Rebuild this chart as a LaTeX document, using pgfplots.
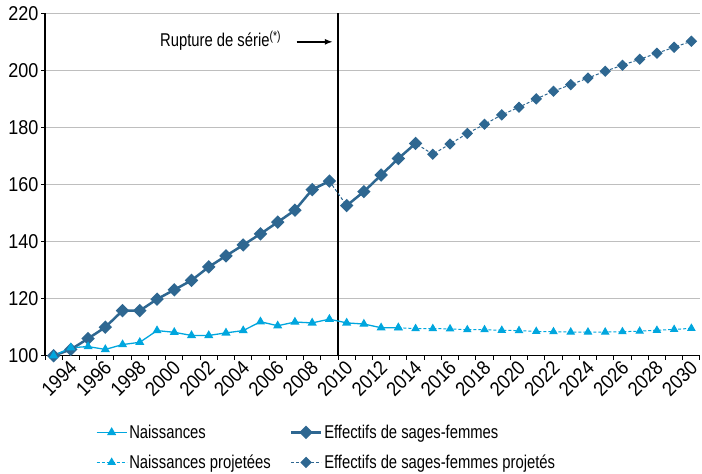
\documentclass[border=0pt]{standalone}
\usepackage{pgfplots}
\pgfplotsset{compat=1.18}
\usepackage{fontspec}
\setmainfont[FakeStretch=0.8]{Liberation Sans}
\newfontfamily\tickfont[FakeStretch=0.9]{Liberation Sans}
\usetikzlibrary{arrows.meta}
\definecolor{dark}{RGB}{46,103,145}
\definecolor{light}{RGB}{0,166,222}
\definecolor{gridc}{RGB}{190,190,190}
\begin{document}
\begin{tikzpicture}[font=\fontsize{18.5bp}{21bp}\selectfont]
\useasboundingbox (0,0) rectangle (702bp,474bp);
\begin{axis}[
  at={(45bp,118.3bp)}, anchor=south west,
  scale only axis, width=655bp, height=342.4bp,
  xmin=1992.5, xmax=2030.5, ymin=100, ymax=220,
  axis x line*=bottom, axis y line*=left,
  axis line style={line width=1.2bp, -},
  ytick={100,120,...,220},
  ymajorgrids, grid style={gridc, line width=1.2bp},
  xtick={1994,1996,...,2030},
  minor xtick={1992.5,1993.5,...,2030.5},
  major x tick style={draw=none},
  minor x tick style={black, line width=1bp},
  tick align=outside,
  major tick length=4bp, minor tick length=4bp,
  y tick style={black, line width=1bp},
  tick label style={font=\tickfont\fontsize{20bp}{22bp}\selectfont},
  /pgf/number format/.cd, 1000 sep={}, assume math mode=true,
  /pgfplots/.cd,
  xticklabel style={xshift=5bp, yshift=-2bp, rotate=45, anchor=east},
  yticklabel style={xshift=1bp},
  legend columns=2,
  legend cell align=left,
  legend style={at={(0.073,-0.19)}, anchor=north west, draw=none, fill=none,
    /tikz/every even column/.append style={column sep=17bp},
    row sep=11bp},
  legend image code/.code={\draw[mark repeat=2,mark phase=2,#1] plot coordinates {(0bp,0bp) (15bp,0bp) (30bp,0bp)};},
]
% vertical break line
\addplot[black, line width=1.2bp, forget plot] coordinates {(2009.5,100) (2009.5,220)};

% Effectifs projetes (dashed)
\addplot[dark, line width=1bp, dash pattern=on 3bp off 2bp, mark=square*, mark size=3.5bp,
  mark options={solid, rotate=45, fill=dark}, forget plot] coordinates {
(2009,161.2) (2010,152.6) (2011,157.5) (2012,163.3) (2013,169.1) (2014,174.4)
(2015,170.6) (2016,174.2) (2017,177.9) (2018,181.1) (2019,184.4) (2020,187.1)
(2021,190.0) (2022,192.7) (2023,195.0) (2024,197.3) (2025,199.7) (2026,201.8)
(2027,203.9) (2028,206.0) (2029,208.1) (2030,210.2)};

% Effectifs (solid)
\addplot[dark, line width=2.5bp, mark=square*, mark size=3.5bp,
  mark options={solid, rotate=45, fill=dark}, forget plot] coordinates {
(1993,100.0) (1994,102.2) (1995,106.0) (1996,110.0) (1997,115.8) (1998,115.8)
(1999,119.8) (2000,123.1) (2001,126.4) (2002,131.1) (2003,135.0) (2004,138.8)
(2005,142.7) (2006,146.8) (2007,151.0) (2008,158.2) (2009,161.2)};
\addplot[dark, line width=2.5bp, mark=square*, mark size=3.5bp,
  mark options={solid, rotate=45, fill=dark}, forget plot] coordinates {
(2010,152.6) (2011,157.5) (2012,163.3) (2013,169.1) (2014,174.4)};

% Naissances projetees (dashed)
\addplot[light, line width=1bp, dash pattern=on 3bp off 2bp, mark=triangle*, mark size=4bp,
  mark options={solid, fill=light}, forget plot] coordinates {
(2013,109.8) (2014,109.5) (2015,109.5) (2016,109.4) (2017,109.1) (2018,109.1)
(2019,108.9) (2020,108.8) (2021,108.5) (2022,108.4) (2023,108.3) (2024,108.3)
(2025,108.3) (2026,108.4) (2027,108.6) (2028,108.9) (2029,109.2) (2030,109.6)};

% Naissances (solid)
\addplot[light, line width=1.3bp, mark=triangle*, mark size=4bp,
  mark options={solid, fill=light}, forget plot] coordinates {
(1993,100.0) (1994,102.8) (1995,103.2) (1996,102.2) (1997,103.9) (1998,104.7)
(1999,108.8) (2000,108.2) (2001,107.1) (2002,107.1) (2003,108.0) (2004,108.8)
(2005,111.9) (2006,110.5) (2007,111.8) (2008,111.5) (2009,112.8) (2010,111.5)
(2011,111.1) (2012,109.8) (2013,109.8)};

% legend
\addlegendimage{light, line width=1.3bp, mark=triangle*, mark size=4bp, mark options={solid, fill=light}}
\addlegendentry{Naissances}
\addlegendimage{dark, line width=2.5bp, mark=square*, mark size=3.5bp, mark options={solid, rotate=45, fill=dark}}
\addlegendentry{Effectifs de sages-femmes}
\addlegendimage{light, line width=1bp, dash pattern=on 3bp off 2bp, mark=triangle*, mark size=4bp, mark options={solid, fill=light}}
\addlegendentry{Naissances projetées}
\addlegendimage{dark, line width=1bp, dash pattern=on 3bp off 2bp, mark=square*, mark size=3.5bp, mark options={solid, rotate=45, fill=dark}}
\addlegendentry{Effectifs de sages-femmes projetés}

\node[anchor=base west, inner sep=0pt] at (axis cs:1999.17,208.2) {Rupture de série\textsuperscript{(*)}};
\draw[-{Latex[length=8bp,width=6bp]}, line width=2bp] (axis cs:2007.1,210) -- (axis cs:2009.2,210);
\end{axis}
\end{tikzpicture}
\end{document}
